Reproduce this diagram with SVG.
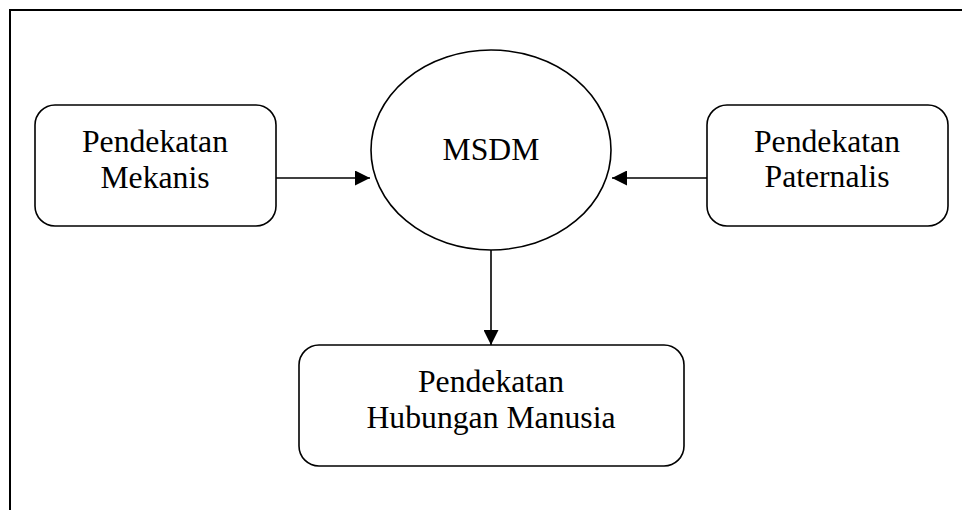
<svg xmlns="http://www.w3.org/2000/svg" width="962" height="510" viewBox="0 0 962 510">
  <style>
    .box { fill: #ffffff; stroke: #000000; stroke-width: 1.6; }
    .frame { fill: none; stroke: #000000; stroke-width: 2; }
    .link { fill: none; stroke: #000000; stroke-width: 1.6; }
    .label { font-family: "Liberation Serif", "Times New Roman", serif; font-size: 31.7px; fill: #000000; text-anchor: middle; }
  </style>
  <defs>
    <marker id="arrow" viewBox="0 0 15 15" refX="15" refY="7.5" markerWidth="15" markerHeight="15" markerUnits="userSpaceOnUse" orient="auto">
      <path d="M0,0 L15,7.5 L0,15 Z" fill="#000000"/>
    </marker>
  </defs>

  <rect width="962" height="510" fill="#ffffff"/>

  <!-- outer frame: top and left edges -->
  <path class="frame" d="M10,510 L10,10 L962,10"/>

  <!-- connectors -->
  <g id="connectors">
    <line class="link" x1="276" y1="178" x2="370" y2="178" marker-end="url(#arrow)"/>
    <line class="link" x1="707" y1="178" x2="612" y2="178" marker-end="url(#arrow)"/>
    <line class="link" x1="491" y1="250" x2="491" y2="345" marker-end="url(#arrow)"/>
  </g>

  <g id="msdm">
    <ellipse class="box" cx="491" cy="150" rx="120" ry="100"/>
    <text class="label" x="491" y="160">MSDM</text>
  </g>

  <g id="mekanis">
    <rect class="box" x="35" y="105" width="241" height="121" rx="20" ry="20"/>
    <text class="label" x="155" y="152">Pendekatan</text>
    <text class="label" x="155" y="188">Mekanis</text>
  </g>

  <g id="paternalis">
    <rect class="box" x="707" y="105" width="241" height="121" rx="20" ry="20"/>
    <text class="label" x="827" y="152">Pendekatan</text>
    <text class="label" x="827" y="187">Paternalis</text>
  </g>

  <g id="hubungan-manusia">
    <rect class="box" x="299" y="345" width="385" height="121" rx="20" ry="20"/>
    <text class="label" x="491" y="392">Pendekatan</text>
    <text class="label" x="491" y="428">Hubungan Manusia</text>
  </g>
</svg>
